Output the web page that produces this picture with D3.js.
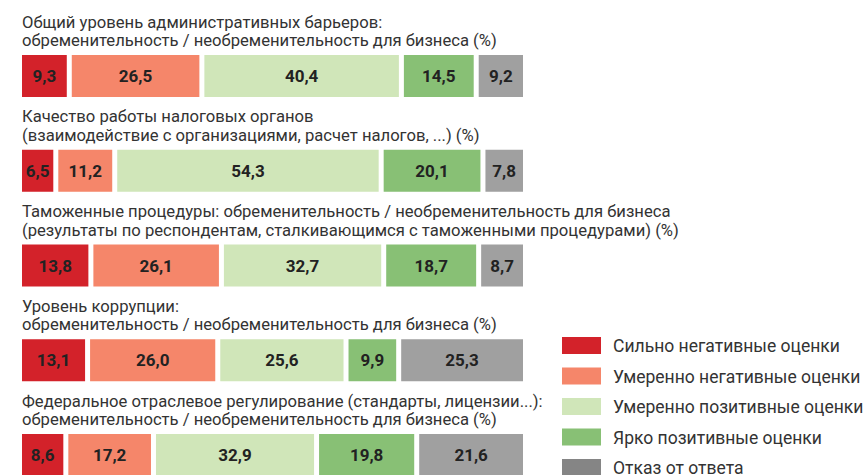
<!DOCTYPE html>
<html>
<head>
<meta charset="utf-8">
<script src="https://cdn.jsdelivr.net/npm/d3@7"></script>
<style>
  html, body { margin: 0; padding: 0; background: #fff; }
  svg { display: block; }
  text { font-family: Roboto, "Noto Sans", sans-serif; }
</style>
</head>
<body>
<div id="chart"></div>
<script>
// survey groups (two title lines each)
const titles = [
    ["Общий уровень административных барьеров:", "обременительность / необременительность для бизнеса (%)"],
    ["Качество работы налоговых органов", "(взаимодействие с организациями, расчет налогов, ...) (%)"],
    ["Таможенные процедуры: обременительность / необременительность для бизнеса", "(результаты по респондентам, сталкивающимся с таможенными процедурами) (%)"],
    ["Уровень коррупции:", "обременительность / необременительность для бизнеса (%)"],
    ["Федеральное отраслевое регулирование (стандарты, лицензии...):", "обременительность / необременительность для бизнеса (%)"]
];

const categories = [
    "Сильно негативные оценки",
    "Умеренно негативные оценки",
    "Умеренно позитивные оценки",
    "Ярко позитивные оценки",
    "Отказ от ответа"
];

// values per category, one per group
const strongNeg = [9.3, 6.5, 13.8, 13.1, 8.6];
const modNeg    = [26.5, 11.2, 26.1, 26.0, 17.2];
const modPos    = [40.4, 54.3, 32.7, 25.6, 32.9];
const brightPos = [14.5, 20.1, 18.7, 9.9, 19.8];
const noAnswer  = [9.2, 7.8, 8.7, 25.3, 21.6];

const series = [strongNeg, modNeg, modPos, brightPos, noAnswer];
const barColors = ["#d3222a", "#f5866a", "#d0e6b9", "#88c075", "#a0a0a0"];
const legendColors = ["#d3222a", "#f5866a", "#d0e6b9", "#88c075", "#858585"];

const width = 865, height = 475;
const left = 22, right = 523, gap = 5, barH = 42;

const table = titles.map((t, i) => {
    const row = { i: i };
    categories.forEach((c, k) => { row[c] = series[k][i]; });
    return row;
});

const stacked = d3.stack().keys(categories)(table);

const svg = d3.select("#chart").append("svg")
    .attr("width", width)
    .attr("height", height);

// vertical position of each bar
const y = d3.scaleLinear().domain([0, titles.length - 1]).range([55, 434]);

// calibrate font size to the width of the original condensed face
function fitSize(str, target) {
    const t = svg.append("text").attr("font-size", 100).text(str);
    const w = t.node().getComputedTextLength();
    t.remove();
    return 100 * target / w;
}
const titleSize = fitSize(titles[0][1], 475);
const legendSize = fitSize(categories[0], 227);

const fmt = v => d3.format(".1f")(v).replace(".", ",");

const groups = svg.selectAll("g.row")
    .data(table)
    .join("g")
    .attr("class", "row");

groups.each(function (row, i) {
    const g = d3.select(this);
    const top = y(i);
    const total = d3.sum(categories, c => row[c]);
    const x = d3.scaleLinear()
        .domain([0, total])
        .range([0, right - left - gap * (categories.length - 1)]);

    g.selectAll("text.title")
        .data(titles[i])
        .join("text")
        .attr("class", "title")
        .attr("x", left)
        .attr("y", (d, j) => top - 27.5 + j * 18.5)
        .attr("font-size", titleSize)
        .attr("fill", "#333")
        .text(d => d);

    const segs = stacked.map((s, k) => ({ k: k, v: row[categories[k]], x0: s[i][0], x1: s[i][1] }));

    g.selectAll("rect.seg")
        .data(segs)
        .join("rect")
        .attr("class", "seg")
        .attr("x", d => left + x(d.x0) + d.k * gap)
        .attr("y", top)
        .attr("width", d => x(d.x1) - x(d.x0))
        .attr("height", barH)
        .attr("fill", d => barColors[d.k]);

    g.selectAll("text.val")
        .data(segs)
        .join("text")
        .attr("class", "val")
        .attr("x", d => left + x((d.x0 + d.x1) / 2) + d.k * gap)
        .attr("y", top + barH / 2 + 6)
        .attr("text-anchor", "middle")
        .attr("font-size", 17)
        .attr("font-weight", "bold")
        .attr("fill", "#222")
        .text(d => fmt(d.v));
});

// legend
const ly = d3.scaleLinear().domain([0, categories.length - 1]).range([337, 459]);
const legend = svg.append("g").attr("class", "legend");
legend.selectAll("rect")
    .data(categories)
    .join("rect")
    .attr("x", 562)
    .attr("y", (d, k) => ly(k))
    .attr("width", 39)
    .attr("height", 17)
    .attr("fill", (d, k) => legendColors[k]);
legend.selectAll("text")
    .data(categories)
    .join("text")
    .attr("x", 613)
    .attr("y", (d, k) => ly(k) + 15)
    .attr("font-size", legendSize)
    .attr("fill", "#333")
    .text(d => d);
</script>
</body>
</html>
